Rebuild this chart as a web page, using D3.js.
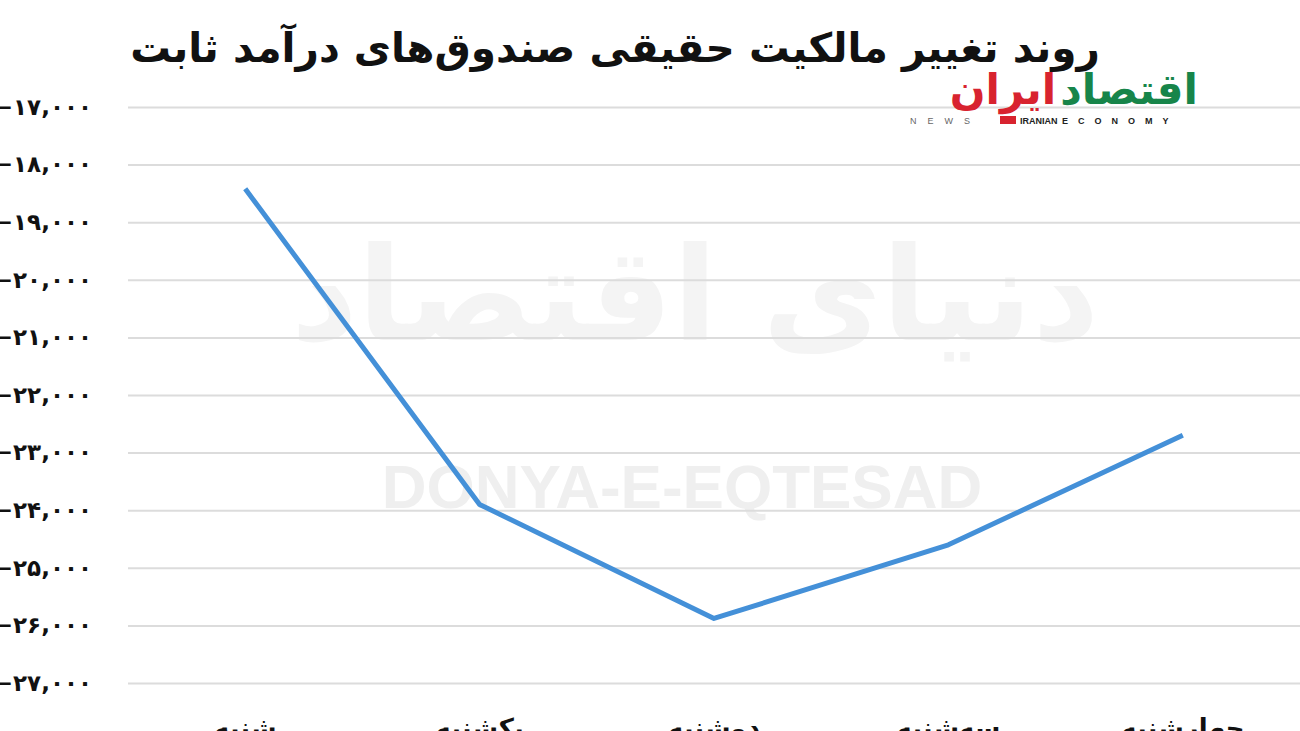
<!DOCTYPE html>
<html>
<head>
<meta charset="utf-8">
<script src="https://cdn.jsdelivr.net/npm/d3@7"></script>
<style>
  body { margin: 0; background: #fff; overflow: hidden; }
  svg { display: block; }
</style>
</head>
<body>
<div id="chart"></div>
<script>
// data
var days = ["شنبه", "یکشنبه", "دوشنبه", "سه‌شنبه", "چهارشنبه"];
var values = [-18420, -23900, -25880, -24600, -22700];
var tickValues = [-17000, -18000, -19000, -20000, -21000, -22000, -23000, -24000, -25000, -26000, -27000];
var chartTitle = "روند تغییر مالکیت حقیقی صندوق‌های درآمد ثابت";

var W = 1300, H = 731;
var margin = { top: 107, right: 0, bottom: 48, left: 128 };

var svg = d3.select("#chart").append("svg")
    .attr("width", W)
    .attr("height", H);

// persian digits
function faDigits(s) {
    return s.replace(/[0-9]/g, function (c) { return "۰۱۲۳۴۵۶۷۸۹"[+c]; });
}

var x = d3.scalePoint()
    .domain(days)
    .range([margin.left, W - margin.right])
    .padding(0.5);

var y = d3.scaleLinear()
    .domain([-27000, -17000])
    .range([H - margin.bottom, margin.top]);

// watermarks
svg.append("text")
    .attr("x", 695).attr("y", 340)
    .attr("text-anchor", "middle")
    .attr("font-family", "DejaVu Sans")
    .attr("font-weight", "bold")
    .attr("font-size", 130)
    .attr("fill", "#f4f4f4")
    .text("دنیای اقتصاد");

svg.append("text")
    .attr("x", 682).attr("y", 508)
    .attr("text-anchor", "middle")
    .attr("font-family", "Liberation Sans")
    .attr("font-weight", "bold")
    .attr("font-size", 62)
    .attr("fill", "#efefef")
    .text("DONYA-E-EQTESAD");

// y axis + grid
var yAxis = svg.append("g")
    .attr("transform", "translate(" + margin.left + ",0)")
    .call(d3.axisLeft(y)
        .tickValues(tickValues)
        .tickSize(-(W - margin.left))
        .tickPadding(36)
        .tickFormat(d => faDigits(d3.format(",")(d))));

yAxis.select(".domain").remove();
yAxis.selectAll(".tick line")
    .attr("stroke", "#dcdcdc")
    .attr("stroke-width", 2);
yAxis.selectAll(".tick text")
    .attr("fill", "#111")
    .attr("font-family", "DejaVu Sans")
    .attr("font-weight", "bold")
    .attr("font-size", 23)
    .attr("direction", "ltr");

// x labels (cut off at the bottom)
svg.selectAll(".xlabel")
    .data(days)
    .join("text")
    .attr("class", "xlabel")
    .attr("x", d => x(d))
    .attr("y", H + 6)
    .attr("text-anchor", "middle")
    .attr("font-family", "DejaVu Sans")
    .attr("font-weight", "bold")
    .attr("font-size", 26)
    .attr("fill", "#111")
    .text(d => d);

// line
var line = d3.line()
    .x((d, i) => x(days[i]))
    .y(d => y(d));

svg.append("path")
    .datum(values)
    .attr("d", line)
    .attr("fill", "none")
    .attr("stroke", "#4490d8")
    .attr("stroke-width", 5)
    .attr("stroke-linejoin", "round");

// title
var title = svg.append("text")
    .attr("x", 1100).attr("y", 62)
    .attr("text-anchor", "end")
    .attr("font-family", "DejaVu Sans")
    .attr("font-weight", "bold")
    .attr("font-size", 36)
    .attr("fill", "#111")
    .text(chartTitle);
var tw = title.node().getComputedTextLength();
title.attr("font-size", 36 * 970 / tw);

// logo
var logo = svg.append("g");
var green = logo.append("text")
    .attr("x", 1198).attr("y", 104)
    .attr("text-anchor", "end")
    .attr("font-family", "DejaVu Sans")
    .attr("font-weight", "bold")
    .attr("font-size", 42)
    .attr("fill", "#17854a")
    .text("اقتصاد");
var gw = green.node().getComputedTextLength();
logo.append("text")
    .attr("x", 1198 - gw - 4).attr("y", 104)
    .attr("text-anchor", "end")
    .attr("font-family", "DejaVu Sans")
    .attr("font-weight", "bold")
    .attr("font-size", 42)
    .attr("fill", "#d8232f")
    .text("ایران");
logo.append("text")
    .attr("x", 910).attr("y", 124)
    .attr("font-family", "Liberation Sans")
    .attr("font-size", 9)
    .attr("letter-spacing", 11)
    .attr("fill", "#666")
    .text("NEWS");
logo.append("rect")
    .attr("x", 1000).attr("y", 116)
    .attr("width", 16).attr("height", 8)
    .attr("fill", "#d8232f");
logo.append("text")
    .attr("x", 1020).attr("y", 124)
    .attr("font-family", "Liberation Sans")
    .attr("font-weight", "bold")
    .attr("font-size", 9)
    .attr("fill", "#222")
    .text("IRANIAN");
logo.append("text")
    .attr("x", 1062).attr("y", 124)
    .attr("font-family", "Liberation Sans")
    .attr("font-weight", "bold")
    .attr("font-size", 9)
    .attr("letter-spacing", 10)
    .attr("fill", "#222")
    .text("ECONOMY");
</script>
</body>
</html>
